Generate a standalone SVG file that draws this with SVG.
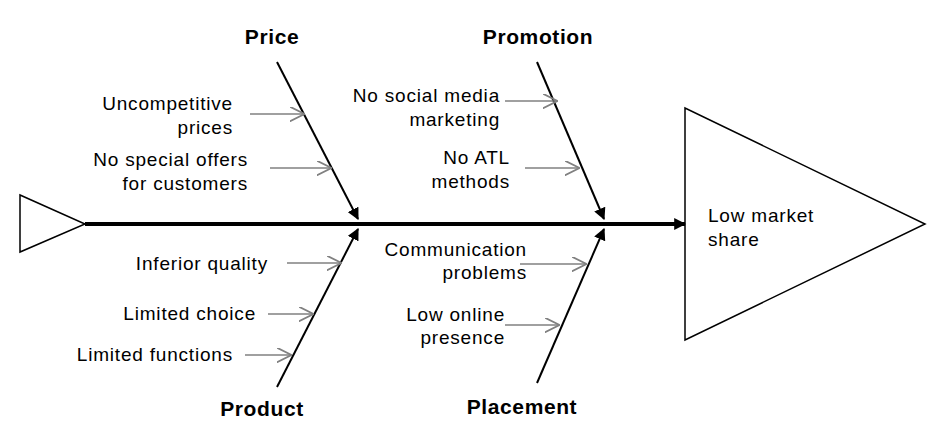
<svg xmlns="http://www.w3.org/2000/svg" width="940" height="440" viewBox="0 0 940 440">
<style>
text{font-family:"Liberation Sans",Arial,sans-serif;font-size:19px;letter-spacing:0.8px;fill:#000}
.t{font-weight:bold;font-size:21px;letter-spacing:0.6px;text-anchor:middle}
.r{text-anchor:end}
.bone{stroke:#000;stroke-width:2;fill:none;marker-end:url(#ab)}
.sub{stroke:#808080;stroke-width:1.5;fill:none;marker-end:url(#ag)}
</style>
<defs>
<marker id="ab" viewBox="0 0 10 10" refX="9" refY="5" markerWidth="6" markerHeight="6" orient="auto" markerUnits="strokeWidth"><path d="M0,0L10,5L0,10z" fill="#000"/></marker>
<marker id="ag" viewBox="0 0 10 10" refX="9" refY="5" markerWidth="10" markerHeight="10" orient="auto" markerUnits="strokeWidth"><path d="M0,0L10,5L0,10" fill="none" stroke="#808080" stroke-width="1.2"/></marker>
<marker id="as" viewBox="0 0 10 10" refX="9" refY="5" markerWidth="3" markerHeight="3" orient="auto" markerUnits="strokeWidth"><path d="M0,0L10,5L0,10z" fill="#000"/></marker>
</defs>
<g id="tail"><polygon points="20,195 20,252 85,224" fill="#fff" stroke="#000" stroke-width="1.5"/></g>
<g id="head"><polygon points="685,108 685,340 925,224" fill="#fff" stroke="#000" stroke-width="1.5"/><text x="708" y="222">Low market</text><text x="708" y="246">share</text></g>
<g id="connectors">
<line x1="85" y1="224" x2="685" y2="224" stroke="#000" stroke-width="4" marker-end="url(#as)"/>
<line class="bone" x1="277" y1="62" x2="358" y2="219"/>
<line class="bone" x1="537" y1="62" x2="604" y2="219"/>
<line class="bone" x1="277" y1="387" x2="358" y2="229"/>
<line class="bone" x1="537" y1="383" x2="604" y2="229"/>
<line class="sub" x1="250" y1="114" x2="303" y2="114"/>
<line class="sub" x1="270" y1="168" x2="330" y2="168"/>
<line class="sub" x1="287" y1="263" x2="340" y2="263"/>
<line class="sub" x1="268" y1="314" x2="312" y2="314"/>
<line class="sub" x1="245" y1="355" x2="290" y2="355"/>
<line class="sub" x1="505" y1="101" x2="556" y2="101"/>
<line class="sub" x1="525" y1="168" x2="578" y2="168"/>
<line class="sub" x1="520" y1="264" x2="585" y2="264"/>
<line class="sub" x1="505" y1="325" x2="558" y2="325"/>
</g>
<g id="price"><text class="t" x="272" y="44">Price</text><text class="r" x="233" y="110">Uncompetitive</text><text class="r" x="233" y="134">prices</text><text class="r" x="248" y="166">No special offers</text><text class="r" x="248" y="190">for customers</text></g>
<g id="promotion"><text class="t" x="538" y="44">Promotion</text><text class="r" x="500" y="102">No social media</text><text class="r" x="500" y="126">marketing</text><text class="r" x="510" y="164">No ATL</text><text class="r" x="510" y="188">methods</text></g>
<g id="product"><text class="t" x="262" y="416">Product</text><text class="r" x="268" y="270">Inferior quality</text><text class="r" x="256" y="320">Limited choice</text><text class="r" x="233" y="361">Limited functions</text></g>
<g id="placement"><text class="t" x="522" y="414">Placement</text><text class="r" x="527" y="256">Communication</text><text class="r" x="527" y="279">problems</text><text class="r" x="505" y="321">Low online</text><text class="r" x="505" y="344">presence</text></g>
</svg>
